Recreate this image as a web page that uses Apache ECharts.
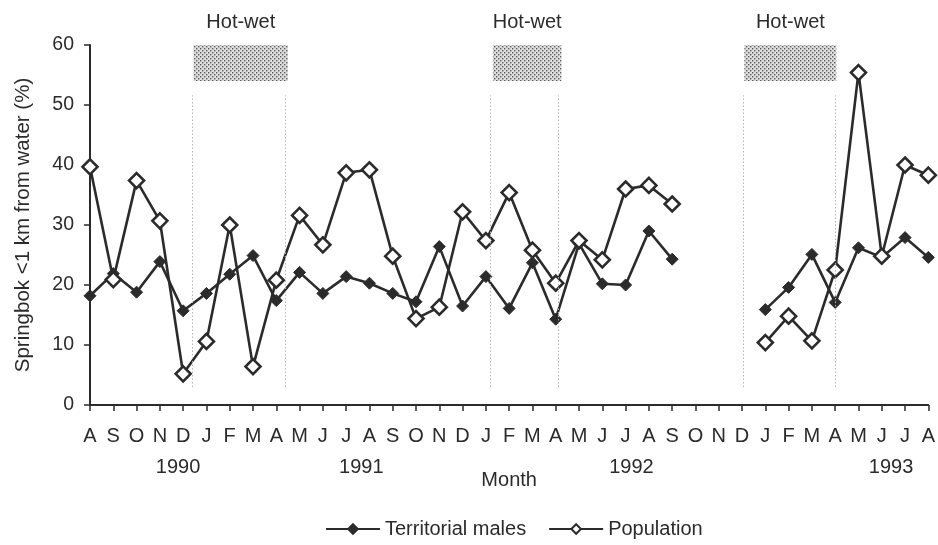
<!DOCTYPE html>
<html>
<head>
<meta charset="utf-8">
<script src="https://cdn.jsdelivr.net/npm/echarts@6/dist/echarts.min.js"></script>
<style>
  html, body { margin: 0; padding: 0; background: #fff; }
  #chart { width: 938px; height: 545px; }
</style>
</head>
<body>
<div id="chart"></div>
<script>
// Monthly survey, Aug 1990 – Aug 1993
const months = ['A','S','O','N','D','J','F','M','A','M','J','J','A','S','O','N','D',
                'J','F','M','A','M','J','J','A','S','O','N','D','J','F','M','A','M','J','J','A'];

// Percentage of springbok within 1 km of water (null = no survey)
const territorialMales = [18.2, 21.9, 18.8, 23.9, 15.7, 18.6, 21.8, 24.9, 17.4, 22.1,
                          18.6, 21.4, 20.3, 18.6, 17.2, 26.4, 16.5, 21.4, 16.1, 23.7,
                          14.3, 26.9, 20.2, 20.0, 29.0, 24.3, null, null, null, 15.9,
                          19.6, 25.1, 17.1, 26.2, 24.6, 27.9, 24.6];
const population = [39.7, 20.9, 37.4, 30.7, 5.2, 10.6, 30.0, 6.4, 20.8, 31.6,
                    26.7, 38.7, 39.2, 24.8, 14.4, 16.3, 32.2, 27.4, 35.4, 25.8,
                    20.3, 27.4, 24.2, 36.0, 36.6, 33.5, null, null, null, 10.4,
                    14.8, 10.7, 22.5, 55.4, 24.8, 40.0, 38.3];

// Hot-wet seasons, in month-index units
const hotWetSeasons = [[4.45, 8.5], [17.3, 20.25], [28.1, 32.05]];
const hotWetLines   = [[4.41, 8.38], [17.2, 20.12], [28.04, 32.0]];

const yearLabels = ['1990', '1991', '1992', '1993'];
const yearAt = [3.78, 11.65, 23.25, 34.4];

const FONT = "'Liberation Sans', Arial, sans-serif";
const INK = '#2b2b2b';

// fine stipple fill for the season bars
function stipple() {
  const c = document.createElement('canvas');
  c.width = 4; c.height = 4;
  const g = c.getContext('2d');
  g.fillStyle = '#dedede';
  g.fillRect(0, 0, 4, 4);
  g.fillStyle = '#5a5a5a';
  g.fillRect(0, 0, 1.4, 1.4);
  g.fillRect(2, 2, 1.4, 1.4);
  return { image: c, repeat: 'repeat' };
}

const pairs = arr => arr.map((v, i) => [i, v]);

const chart = echarts.init(document.getElementById('chart'), null, { renderer: 'canvas' });

const lineData = [];
hotWetLines.forEach(([a, b]) => {
  [a, b].forEach(x => lineData.push([{ coord: [x, 3] }, { coord: [x, 51.6] }]));
});

chart.setOption({
  animation: false,
  textStyle: { fontFamily: FONT, color: INK },
  grid: { left: 90, right: 8, top: 45, bottom: 140 },
  legend: {
    bottom: 1,
    left: 320,
    itemWidth: 54,
    itemHeight: 12,
    itemGap: 22,
    textStyle: { fontSize: 20, color: INK, fontFamily: FONT },
    data: ['Territorial males', 'Population']
  },
  xAxis: {
    type: 'value',
    min: 0, max: 36, interval: 1,
    name: 'Month',
    nameLocation: 'middle',
    nameGap: 65,
    nameTextStyle: { fontSize: 20, color: INK, fontFamily: FONT },
    axisLine: { lineStyle: { color: INK, width: 2 } },
    axisTick: { inside: false, length: 6, lineStyle: { color: INK, width: 1.5 } },
    axisLabel: {
      margin: 21, fontSize: 20, color: INK, fontFamily: FONT,
      formatter: v => months[v] || ''
    },
    splitLine: { show: false }
  },
  yAxis: {
    type: 'value',
    min: 0, max: 60, interval: 10,
    name: 'Springbok <1 km from water (%)',
    nameLocation: 'middle',
    nameGap: 56,
    nameTextStyle: { fontSize: 20.5, color: INK, fontFamily: FONT },
    axisLine: { show: true, lineStyle: { color: INK, width: 2 } },
    axisTick: { show: true, inside: false, length: 6, lineStyle: { color: INK, width: 1.5 } },
    axisLabel: { margin: 16, fontSize: 19.5, color: INK, fontFamily: FONT },
    splitLine: { show: false }
  },
  series: [
    {
      name: 'Territorial males',
      type: 'line',
      data: pairs(territorialMales),
      connectNulls: false,
      symbol: 'diamond',
      symbolSize: 12,
      lineStyle: { color: INK, width: 2.6 },
      itemStyle: { color: INK, borderColor: INK, borderWidth: 1 },
      z: 3,
      markArea: {
        silent: true,
        itemStyle: { color: stipple() },
        label: {
          show: true, position: 'top', distance: 13,
          fontSize: 20, color: INK, fontFamily: FONT
        },
        data: hotWetSeasons.map(([a, b]) => [
          { name: 'Hot-wet', coord: [a, 54] },
          { coord: [b, 60] }
        ])
      },
      markLine: {
        silent: true,
        symbol: 'none',
        label: { show: false },
        lineStyle: { color: '#b5b5b5', type: [1.5, 2], width: 1 },
        data: lineData
      }
    },
    {
      name: 'Population',
      type: 'line',
      data: pairs(population),
      connectNulls: false,
      symbol: 'diamond',
      symbolSize: 15,
      lineStyle: { color: INK, width: 2.6 },
      itemStyle: { color: '#fff', borderColor: INK, borderWidth: 2.6 },
      z: 4
    }
  ]
});

// year captions below the month letters
chart.setOption({
  graphic: yearLabels.map((t, i) => {
    const px = chart.convertToPixel({ gridIndex: 0 }, [yearAt[i], 0]);
    return {
      type: 'text',
      x: px[0],
      y: px[1] + 62,
      style: {
        text: t, fontSize: 20, fontFamily: FONT, fill: INK,
        textAlign: 'center', textVerticalAlign: 'middle'
      }
    };
  })
});
</script>
</body>
</html>
